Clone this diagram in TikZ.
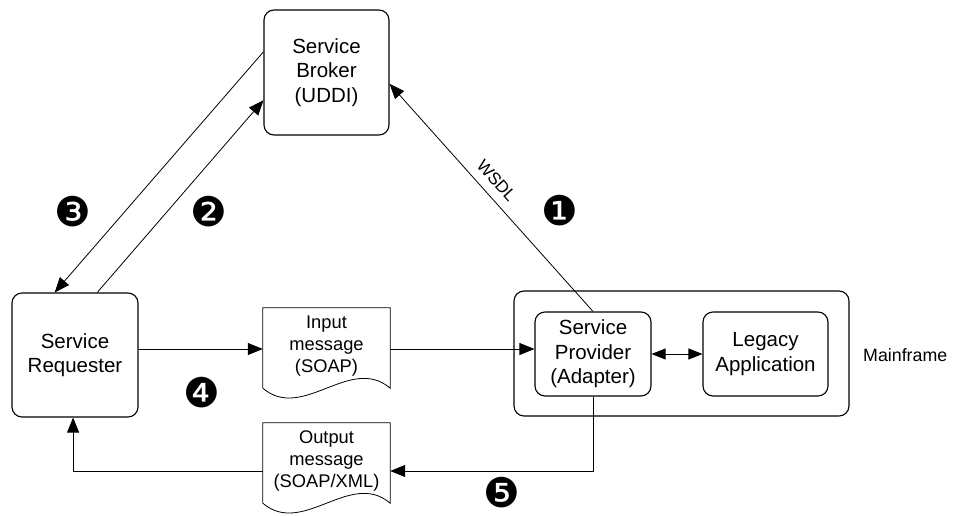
\documentclass[tikz,border=0pt]{standalone}
\usepackage{fontspec}
\setmainfont{Liberation Sans}
\newfontfamily\numfont{DejaVu Sans}
\usetikzlibrary{arrows.meta,calc}
\begin{document}
\begin{tikzpicture}[x=1pt,y=-1pt,
  box/.style={draw,line width=1.1pt,rounded corners=10pt,align=center,font=\fontsize{20.5}{24.6}\selectfont,inner sep=0pt},
  doctext/.style={align=center,font=\fontsize{18.3}{22}\selectfont,inner sep=0pt,minimum width=127pt,minimum height=82pt},
  docshape/.style={draw,line width=0.8pt},
  arr/.style={line width=0.8pt,-{Triangle[length=15pt,width=12pt]}},
  num/.style={font=\numfont\fontsize{41}{41}\selectfont,inner sep=0pt}]
\useasboundingbox (0,0) rectangle (966,516);
% nodes
\node[box,minimum width=125pt,minimum height=125pt] (broker) at (326.5,72.5) {Service\\Broker\\(UDDI)};
\node[box,minimum width=126pt,minimum height=124pt] (req) at (75,355) {Service\\Requester};
\node[box,minimum width=335pt,minimum height=125pt] (main) at (681.5,353.5) {};
\node[box,minimum width=116pt,minimum height=84pt] (prov) at (593,354) {Service\\Provider\\(Adapter)};
\node[box,minimum width=125pt,minimum height=84pt] (legacy) at (765.5,354) {Legacy\\Application};
\node[font=\fontsize{17.8}{21}\selectfont,anchor=west,inner sep=0pt] (mflabel) at (863,355) {Mainframe};
% documents
\node[doctext] (indoc) at (326.5,349) {};
\node[doctext] (outdoc) at (326.5,464) {};
\draw[docshape] ($(indoc.south west)+(0,-2)$) -- (indoc.north west) -- (indoc.north east) -- ($(indoc.south east)+(0,-2)$)
  .. controls ($(indoc.south east)+(-40,-36)$) and ($(indoc.south west)+(40,32)$) .. ($(indoc.south west)+(0,-2)$);
\draw[docshape] ($(outdoc.south west)+(0,-2)$) -- (outdoc.north west) -- (outdoc.north east) -- ($(outdoc.south east)+(0,-2)$)
  .. controls ($(outdoc.south east)+(-40,-36)$) and ($(outdoc.south west)+(40,32)$) .. ($(outdoc.south west)+(0,-2)$);
\node[align=center,font=\fontsize{18.3}{22}\selectfont,inner sep=0pt] (intext) at (326.5,346) {Input\\message\\(SOAP)};
\node[align=center,font=\fontsize{18.3}{22}\selectfont,inner sep=0pt] (outtext) at (326.5,461) {Output\\message\\(SOAP/XML)};
% coordinates
\coordinate (bW3) at ($(broker.north west)!0.336!(broker.south west)$);
\coordinate (bW2) at ($(broker.north west)!0.72!(broker.south west)$);
\coordinate (bE1) at ($(broker.north east)!0.59!(broker.south east)$);
\coordinate (rN3) at ($(req.north west)!0.34!(req.north east)$);
\coordinate (rN2) at ($(req.north west)!0.675!(req.north east)$);
\coordinate (rS) at ($(req.south west)!0.485!(req.south east)$);
% connectors
\draw[arr] (bW3) -- (rN3);
\draw[arr] (rN2) -- (bW2);
\draw[line width=0.8pt,{Triangle[length=15pt,width=12pt]}-] (bE1) -- node[pos=0.47,sloped,above=9pt,inner sep=0pt,font=\fontsize{17}{20}\selectfont] (wsdl) {WSDL} (prov.north);
\draw[arr] (req.east |- indoc.west) -- (indoc.west);
\draw[arr] (indoc.east) -- (indoc.east -| prov.west);
\draw[line width=0.8pt,{Triangle[length=14pt,width=11pt]}-{Triangle[length=14pt,width=11pt]}] (prov) -- (legacy);
\draw[arr] (prov.south) |- (outdoc.east |- 0,471);
\draw[arr] (outdoc.west |- 0,471) -| (rS);
% numbers
\node[num] (n1) at (560,211) {❶};
\node[num] (n2) at (209,212) {❷};
\node[num] (n3) at (73,212) {❸};
\node[num] (n4) at (202,393) {❹};
\node[num] (n5) at (502,493) {❺};
\end{tikzpicture}
\end{document}
